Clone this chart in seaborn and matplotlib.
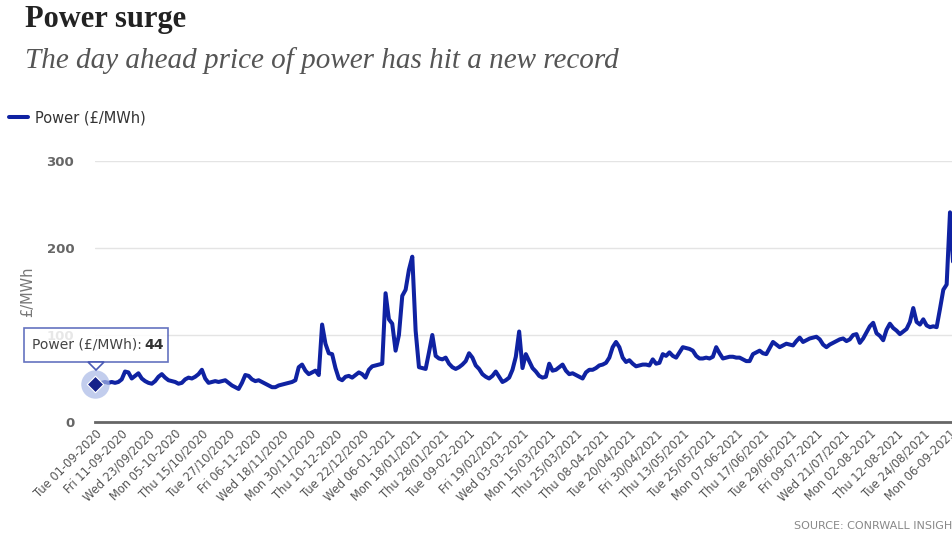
import numpy as np
import pandas as pd
import seaborn as sns
import matplotlib.pyplot as plt
from matplotlib import font_manager
from matplotlib.patches import Polygon, Rectangle

# day-ahead power price, £/MWh, one value per trading day from Tue 01-09-2020
power = [
    44, 44, 45, 46, 45, 46, 45, 46, 49, 58, 57, 50, 53, 56, 50, 47,
    45, 44, 47, 52, 55, 51, 48, 47, 46, 44, 45, 49, 51, 50, 52, 55,
    60, 50, 45, 46, 47, 46, 47, 48, 45, 42, 40, 38, 45, 54, 53, 49,
    47, 48, 46, 44, 42, 40, 40, 42, 43, 44, 45, 46, 48, 63, 66, 59,
    55, 57, 59, 54, 112, 90, 79, 78, 62, 50, 48, 52, 53, 51, 54, 57,
    55, 51, 60, 64, 65, 66, 67, 148, 118, 113, 82, 100, 145, 152, 175, 190,
    105, 63, 62, 61, 80, 100, 76, 73, 72, 74, 67, 63, 61, 63, 66, 70,
    79, 74, 65, 61, 55, 52, 50, 53, 58, 52, 46, 48, 51, 60, 75, 104,
    62, 78, 70, 62, 58, 53, 51, 52, 67, 59, 60, 63, 66, 59, 55, 56,
    54, 52, 50, 57, 60, 60, 62, 65, 66, 68, 74, 86, 92, 86, 74, 69,
    71, 67, 64, 65, 66, 66, 65, 72, 67, 68, 78, 76, 80, 76, 74, 80,
    86, 85, 84, 82, 76, 73, 73, 74, 73, 75, 86, 79, 73, 74, 75, 75,
    74, 74, 72, 70, 70, 78, 80, 82, 79, 78, 85, 92, 89, 86, 88, 90,
    89, 88, 93, 97, 92, 94, 96, 97, 98, 95, 89, 86, 89, 91, 93, 95,
    96, 93, 95, 100, 101, 91, 96, 103, 110, 114, 102, 99, 94, 106, 113, 108,
    105, 101, 104, 107, 115, 131, 115, 112, 118, 111, 109, 110, 109, 130, 152, 158,
    241, 178,
]

tick_labels = [
    "Tue 01-09-2020", "Fri 11-09-2020", "Wed 23/09/2020", "Mon 05-10-2020",
    "Thu 15/10/2020", "Tue 27/10/2020", "Fri 06-11-2020", "Wed 18/11/2020",
    "Mon 30/11/2020", "Thu 10-12-2020", "Tue 22/12/2020", "Wed 06-01-2021",
    "Mon 18/01/2021", "Thu 28/01/2021", "Tue 09-02-2021", "Fri 19/02/2021",
    "Wed 03-03-2021", "Mon 15/03/2021", "Thu 25/03/2021", "Thu 08-04-2021",
    "Tue 20/04/2021", "Fri 30/04/2021", "Thu 13/05/2021", "Tue 25/05/2021",
    "Mon 07-06-2021", "Thu 17/06/2021", "Tue 29/06/2021", "Fri 09-07-2021",
    "Wed 21/07/2021", "Mon 02-08-2021", "Thu 12-08-2021", "Tue 24/08/2021",
    "Mon 06-09-2021",
]
tick_step = 8  # trading days between labels
y_ticks = [0, 100, 200, 300]

df = pd.DataFrame({"day": np.arange(len(power)), "price": power})

sns.set_theme(style="white")
installed = {f.name for f in font_manager.fontManager.ttflist}
narrow = "Liberation Sans Narrow" if "Liberation Sans Narrow" in installed else "DejaVu Sans"
plt.rcParams["font.family"] = [narrow, "DejaVu Sans"]

line_col = "#0f22a2"
W, H = 952, 537
fig = plt.figure(figsize=(W / 100, H / 100), dpi=100)
ax = fig.add_axes([95 / W, 1 - 422 / H, (W - 95) / W, (422 - 161) / H])

sns.lineplot(data=df, x="day", y="price", ax=ax, color=line_col, linewidth=2.9,
             label="Power (£/MWh)", zorder=3)

ax.set_xlim(0, 256.6)
ax.set_ylim(0, 300)
ax.set_yticks(y_ticks)
ax.set_yticklabels([str(v) for v in y_ticks], color="#666666", fontsize=9.5, fontweight="bold")
ax.set_xticks(np.arange(len(tick_labels)) * tick_step)
ax.set_xticklabels(tick_labels, rotation=45, ha="right", va="top", rotation_mode="anchor",
                   color="#555555", fontsize=8.3)
ax.tick_params(axis="y", length=0, pad=15)
ax.tick_params(axis="x", length=0, pad=4)
ax.grid(axis="y", color="#e4e4e4", linewidth=1)
ax.grid(axis="x", visible=False)
for s in ["top", "right", "left"]:
    ax.spines[s].set_visible(False)
ax.spines["bottom"].set_color("#666666")
ax.spines["bottom"].set_linewidth(2)
ax.set_xlabel("")
ax.set_ylabel("£/MWh", color="#777777", fontsize=10.5)
ax.yaxis.set_label_coords(-(95 - 35) / (W - 95), 0.5)

# hovered first point
ax.scatter([0], [power[0]], s=420, color="#a9b9e6", alpha=0.7, zorder=4, clip_on=False, linewidths=0)
ax.scatter([0], [power[0]], marker="D", s=70, color="#16238a", edgecolor="white",
           linewidths=0.8, zorder=5, clip_on=False)

# legend
handles, labels = ax.get_legend_handles_labels()
ax.get_legend().remove()
fig.legend(handles, labels, loc="center left", bbox_to_anchor=(0.0, 1 - 118 / H),
           frameon=False, handlelength=1.3, handletextpad=0.5, borderaxespad=0.2,
           prop={"size": 10.5}, labelcolor="#333333")

# tooltip
box = Rectangle((24 / W, 1 - 362 / H), (168 - 24) / W, (362 - 328) / H,
                transform=fig.transFigure, fc="white", ec="#4a5ab5", lw=1.2, alpha=0.85, zorder=6)
fig.patches.append(box)
tri = Polygon([[88 / W, 1 - 362 / H], [104 / W, 1 - 362 / H], [96 / W, 1 - 370 / H]],
              closed=True, transform=fig.transFigure, fc="white", ec="#4a5ab5", lw=1.2, zorder=6)
fig.patches.append(tri)
fig.text(32 / W, 1 - 345 / H, "Power (£/MWh):", fontsize=10, color="#444444",
         va="center", ha="left", zorder=7)
fig.text(144 / W, 1 - 345 / H, "44", fontsize=10, color="#333333", fontweight="bold",
         va="center", ha="left", zorder=7)

# headings
fig.text(25 / W, 1 - 20 / H, "Power surge", family=["Liberation Serif", "DejaVu Serif"],
         fontsize=22, fontweight="bold", color="#222222", va="center", ha="left")
fig.text(25 / W, 1 - 61 / H, "The day ahead price of power has hit a new record",
         family=["Liberation Serif", "DejaVu Serif"], fontsize=21, style="italic",
         color="#555555", va="center", ha="left")
fig.text(1.0, 1 - 526 / H, "SOURCE: CONRWALL INSIGH", fontsize=8, color="#888888",
         va="center", ha="right")

fig.savefig("out.png", dpi=100)
